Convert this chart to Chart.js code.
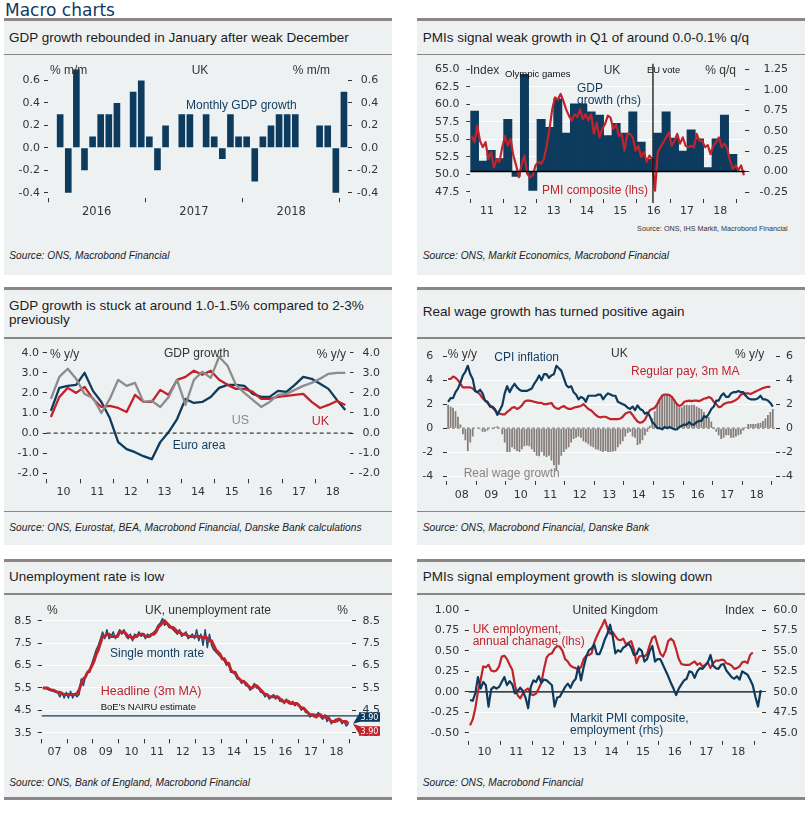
<!DOCTYPE html>
<html>
<head>
<meta charset="utf-8">
<script src="https://cdn.jsdelivr.net/npm/chart.js@4.4.1/dist/chart.umd.min.js"></script>
<style>
  html, body { margin: 0; padding: 0; background: #fff; }
  #page { position: relative; width: 812px; height: 814px; overflow: hidden; font-family: "Liberation Sans", Arial, sans-serif; }
  .head { position: absolute; left: 5px; top: 0; font: 17px "DejaVu Sans", sans-serif; color: #12395c; white-space: nowrap; }
  .panel { position: absolute; box-sizing: border-box; background: #eef1f2; border-top: 3px solid #8c8686; }
  .title { position: absolute; font-size: 13.5px; line-height: 16px; color: #1c1c1c; white-space: nowrap; }
  .sep { position: absolute; height: 1.5px; background: #8c8686; }
  .src { position: absolute; font-size: 10.2px; line-height: 12px; font-style: italic; color: #222; white-space: nowrap; }
  .mini { position: absolute; font-size: 7.2px; line-height: 9px; color: #333; white-space: nowrap; }
  canvas { position: absolute; }
</style>
</head>
<body>
<div id="page">
  <div class="head">Macro charts</div>

  <div class="panel" style="left:4px;top:18px;width:388px;height:257px"></div>
  <div class="panel" style="left:417px;top:18px;width:388px;height:257px"></div>
  <div class="panel" style="left:4px;top:287px;width:388px;height:258px"></div>
  <div class="panel" style="left:417px;top:287px;width:388px;height:258px"></div>
  <div class="panel" style="left:4px;top:559px;width:388px;height:241px;border-bottom:3px solid #8c8686"></div>
  <div class="panel" style="left:417px;top:559px;width:388px;height:241px;border-bottom:3px solid #8c8686"></div>

  <div class="title" style="left:9px;top:30px">GDP growth rebounded in January after weak December</div>
  <div class="title" style="left:422.7px;top:30px">PMIs signal weak growth in Q1 of around 0.0-0.1% q/q</div>
  <div class="title" style="left:9px;top:299.3px;line-height:14px">GDP growth is stuck at around 1.0-1.5% compared to 2-3%<br>previously</div>
  <div class="title" style="left:422.7px;top:304.4px">Real wage growth has turned positive again</div>
  <div class="title" style="left:9px;top:568.9px">Unemployment rate is low</div>
  <div class="title" style="left:422.7px;top:568.9px">PMIs signal employment growth is slowing down</div>

  <div class="sep" style="left:4px;top:53.5px;width:388px"></div>
  <div class="sep" style="left:417px;top:53.5px;width:388px"></div>
  <div class="sep" style="left:4px;top:337px;width:388px"></div>
  <div class="sep" style="left:417px;top:337px;width:388px"></div>
  <div class="sep" style="left:4px;top:510.5px;width:388px"></div>
  <div class="sep" style="left:417px;top:510.5px;width:388px"></div>
  <div class="sep" style="left:4px;top:593px;width:388px"></div>
  <div class="sep" style="left:417px;top:593px;width:388px"></div>

  <canvas id="c1" width="388" height="190" style="left:4px;top:56px"></canvas>
  <canvas id="c2" width="388" height="166" style="left:417px;top:56px"></canvas>
  <canvas id="c3" width="388" height="165" style="left:4px;top:340px"></canvas>
  <canvas id="c4" width="388" height="165" style="left:417px;top:340px"></canvas>
  <canvas id="c5" width="388" height="169" style="left:4px;top:596px"></canvas>
  <canvas id="c6" width="388" height="169" style="left:417px;top:596px"></canvas>

  <div class="mini" style="right:24.3px;top:224px">Source: ONS, IHS Markit, Macrobond Financial</div>

  <div class="src" style="left:9.3px;top:249.5px">Source: ONS, Macrobond Financial</div>
  <div class="src" style="left:422.7px;top:249.5px">Source: ONS, Markit Economics, Macrobond Financial</div>
  <div class="src" style="left:9.3px;top:521.5px">Source: ONS, Eurostat, BEA, Macrobond Financial, Danske Bank calculations</div>
  <div class="src" style="left:422.7px;top:521.5px">Source: ONS, Macrobond Financial, Danske Bank</div>
  <div class="src" style="left:9.3px;top:777px">Source: ONS, Bank of England, Macrobond Financial</div>
  <div class="src" style="left:422.7px;top:777px">Source: ONS, Macrobond Financial</div>
</div>

<script>
// ---- data ----

// UK monthly GDP, % m/m, Jan 2016 .. Jan 2019
const gdpStart = 2016;
const gdpMoM = [null, 0.3, -0.4, 0.7, -0.2, 0.1, 0.3, 0.3, 0.4, 0.0, 0.5, 0.6,
  0.1, -0.2, 0.2, 0.0, 0.3, 0.3, 0.0, 0.3, 0.1, -0.1, 0.3, 0.1,
  0.1, -0.3, 0.1, 0.2, 0.3, 0.3, 0.3, 0.0, 0.0, 0.2, 0.2, -0.4,
  0.5];
const gdpTicks = [-0.4, -0.3, -0.2, -0.1, 0, 0.1, 0.2, 0.3, 0.4, 0.5, 0.6, 0.7];
const gdpLabels = [-0.4, -0.2, 0, 0.2, 0.4, 0.6];
const gdpYears = [2016, 2017, 2018];
const gdpYearTicks = [2016, 2017, 2018, 2019];

// PMI composite (lhs, monthly from Jan 2011) and GDP q/q (rhs, quarterly from 2011Q1)
const pmiStart = 2011;
const pmiComposite = [
  55.5, 54.6, 57.0, 54.8, 53.9, 54.6, 52.2, 53.2, 51.0, 52.2, 51.8, 53.9,
  55.5, 54.1, 55.1, 52.7, 51.3, 49.6, 51.5, 52.7, 50.1, 49.6, 49.9, 51.3,
  51.8, 51.5, 52.2, 54.1, 56.5, 59.3, 61.0, 60.7, 61.5, 60.5, 59.3, 58.4,
  57.7, 58.6, 58.2, 59.3, 57.9, 58.6, 57.7, 58.6, 55.8, 57.4, 55.3, 56.5,
  57.2, 58.4, 58.1, 56.5, 57.2, 55.5, 55.8, 53.4, 55.8, 55.8, 55.3, 53.4,
  54.1, 52.5, 53.2, 51.8, 52.7, 52.2, 47.7, 53.2, 53.9, 54.6, 55.3, 56.0,
  54.1, 54.8, 55.8, 54.4, 55.3, 54.1, 53.9, 54.1, 53.9, 55.8, 54.8, 54.8,
  53.9, 54.2, 52.9, 54.1, 54.6, 55.3, 53.9, 54.4, 53.7, 52.0, 50.8, 51.3,
  50.6, 51.3, 49.9];
const gdpQoQ = [0.74, 0.13, 0.26, 0.16, 0.64, -0.06, 1.19, -0.23,
  0.64, 0.54, 0.89, 0.47, 0.83, 0.83, 0.73, 0.69,
  0.44, 0.59, 0.47, 0.73, 0.36, 0.15, 0.47, 0.73,
  0.41, 0.25, 0.51, 0.40, 0.05, 0.40, 0.69, 0.21];
const euVote = 2016.48;
const pmiTicks = [47.5, 50, 52.5, 55, 57.5, 60, 62.5, 65];
const qoqTicks = [-0.25, 0, 0.25, 0.5, 0.75, 1, 1.25];
const pmiYears = [2011, 2012, 2013, 2014, 2015, 2016, 2017, 2018];
const pmiYearTicks = [2011, 2012, 2013, 2014, 2015, 2016, 2017, 2018, 2019];

// GDP growth % y/y, quarterly from 2010Q1
const yoyStart = 2010;
const euroGdp = [1.1, 2.25, 2.35, 2.4, 3.0, 2.1, 1.55, 0.75, -0.45, -0.8, -0.95, -1.15,
  -1.3, -0.45, 0.05, 0.7, 1.7, 1.5, 1.55, 1.8, 2.25, 2.4, 2.4, 2.35,
  1.95, 1.8, 1.8, 2.1, 2.05, 2.4, 2.8, 2.7, 2.45, 2.2, 1.65, 1.15];
const ukGdp = [0.8, 1.8, 2.25, 2.0, 2.3, 1.7, 1.3, 1.35, 1.25, 1.05, 1.9, 1.55,
  1.55, 2.15, 1.9, 2.65, 2.8, 3.1, 2.9, 3.1, 2.65, 2.4, 2.2, 2.2,
  2.05, 1.7, 1.7, 1.8, 1.85, 1.9, 1.95, 1.55, 1.25, 1.4, 1.6, 1.4];
const usGdp = [1.7, 2.8, 3.2, 2.7, 1.95, 1.75, 1.0, 1.7, 2.65, 2.35, 2.5, 1.55,
  1.6, 1.3, 1.8, 2.65, 1.4, 2.65, 3.05, 2.75, 3.8, 3.35, 2.4, 2.0,
  1.65, 1.3, 1.55, 1.9, 1.95, 2.15, 2.35, 2.5, 2.7, 2.95, 3.0, 3.0];
const yoyTicks = [-2, -1, 0, 1, 2, 3, 4];
const yoyYears = [2010, 2011, 2012, 2013, 2014, 2015, 2016, 2017, 2018];

// UK CPI, regular pay (3m MA) and real wage growth, % y/y, monthly from Jan 2008
const wageStart = 2008;
const cpiInflation = [
  2.2, 2.5, 2.5, 3.0, 3.3, 3.8, 4.4, 4.7, 5.2, 4.5, 4.1, 3.1,
  3.0, 3.2, 2.9, 2.3, 2.2, 1.8, 1.8, 1.6, 1.1, 1.5, 1.9, 2.9,
  3.5, 3.0, 3.4, 3.7, 3.4, 3.2, 3.1, 3.1, 3.1, 3.2, 3.3, 3.7,
  4.0, 4.4, 4.0, 4.5, 4.5, 4.2, 4.4, 4.5, 5.2, 5.0, 4.8, 4.2,
  3.6, 3.4, 3.5, 3.0, 2.8, 2.4, 2.6, 2.5, 2.2, 2.7, 2.7, 2.7,
  2.7, 2.8, 2.8, 2.4, 2.7, 2.9, 2.8, 2.7, 2.7, 2.2, 2.1, 2.0,
  1.9, 1.7, 1.6, 1.8, 1.5, 1.9, 1.6, 1.5, 1.2, 1.3, 1.0, 0.5,
  0.3, 0.0, 0.0, -0.1, 0.1, 0.0, 0.1, 0.0, -0.1, -0.1, 0.1, 0.2,
  0.3, 0.3, 0.5, 0.3, 0.3, 0.5, 0.6, 0.6, 1.0, 0.9, 1.2, 1.6,
  1.8, 2.3, 2.3, 2.7, 2.9, 2.6, 2.6, 2.9, 3.0, 3.0, 3.1, 3.0,
  3.0, 2.7, 2.5, 2.4, 2.4, 2.4, 2.5, 2.7, 2.4, 2.4, 2.3, 2.1,
  1.8];
const regularPay = [
  4.1, 4.1, 4.3, 4.2, 4.0, 3.7, 3.4, 3.4, 3.4, 3.4, 3.3, 3.1,
  3.0, 2.8, 2.5, 2.3, 2.1, 1.9, 1.7, 1.5, 1.3, 1.2, 1.15, 1.15,
  1.35, 1.5, 1.7, 1.75, 1.6, 1.7, 1.9, 2.2, 2.3, 2.3, 2.25, 2.2,
  2.15, 2.1, 2.1, 2.0, 2.0, 2.05, 2.1, 1.8, 1.65, 1.6, 1.75, 1.85,
  1.7, 1.6, 1.6, 1.7, 1.75, 1.8, 1.85, 2.0, 1.8, 1.6, 1.5, 1.3,
  1.1, 0.95, 0.9, 0.95, 0.95, 0.85, 0.75, 0.75, 0.75, 0.75, 0.8, 0.95,
  1.2, 1.3, 1.35, 1.1, 0.8, 0.55, 0.45, 0.5, 0.7, 1.1, 1.5, 1.6,
  1.7, 2.0, 2.4, 2.7, 2.8, 2.8, 2.75, 2.6, 2.3, 2.0, 1.85, 1.95,
  2.2, 2.25, 2.3, 2.25, 2.3, 2.3, 2.25, 2.35, 2.45, 2.5, 2.6, 2.5,
  2.2, 2.0, 1.75, 1.8, 2.0, 2.1, 2.15, 2.15, 2.25, 2.35, 2.5, 2.8,
  2.85, 2.9, 2.9, 2.85, 2.95, 3.05, 3.15, 3.25, 3.35, 3.4, 3.45, 3.45];
const realWage = [
  1.95, 1.8, 1.7, 1.4, 0.95, 0.3, -0.5, -1.0, -1.9, -1.2, -0.7, 0.0,
  0.0, -0.1, -0.3, -0.3, -0.2, 0.05, -0.1, 0.1, 0.15, 0.0, -0.5, -1.2,
  -2.0, -2.0, -1.6, -1.75, -1.9, -2.0, -1.75, -1.5, -1.45, -1.5, -1.75, -2.0,
  -2.3, -2.35, -2.0, -2.3, -2.4, -2.3, -2.7, -3.1, -3.5, -3.05, -2.3, -2.0,
  -1.75, -1.6, -1.2, -0.9, -0.8, -0.7, -0.8, -1.1, -1.2, -1.35, -1.5, -1.6,
  -1.75, -1.8, -1.9, -2.0, -1.9, -2.0, -2.0, -1.95, -1.9, -1.6, -1.35, -1.1,
  -0.7, -0.4, -0.3, -0.7, -0.8, -1.4, -1.3, -1.0, -0.6, -0.3, 0.2, 0.8,
  1.4, 2.0, 2.4, 2.8, 2.7, 2.8, 2.65, 2.6, 2.4, 2.1, 1.75, 1.75,
  1.9, 1.95, 1.9, 1.95, 1.95, 1.8, 1.7, 1.6, 1.35, 1.1, 0.9, 0.55,
  0.1, -0.3, -0.6, -0.9, -0.8, -0.6, -0.6, -0.8, -0.8, -0.7, -0.6, -0.5,
  -0.2, 0.1, 0.35, 0.35, 0.35, 0.35, 0.4, 0.45, 0.6, 0.8, 1.1, 1.35,
  1.6];
const wageTicks = [-4, -3, -2, -1, 0, 1, 2, 3, 4, 5, 6];
const wageLabels = [-4, -2, 0, 2, 4, 6];
const wageYears = [2008, 2009, 2010, 2011, 2012, 2013, 2014, 2015, 2016, 2017, 2018];
const wageYearTicks = [2008, 2009, 2010, 2011, 2012, 2013, 2014, 2015, 2016, 2017, 2018, 2019];

// UK unemployment rate %, monthly from Jan 2007
const unempStart = 2007;
const unempSingle = [
  5.5, 5.5, 5.45, 5.4, 5.4, 5.35, 5.3, 5.3, 5.1, 5.3, 5.05, 5.3,
  5.05, 5.35, 5.05, 5.25, 5.1, 5.2, 5.9, 5.6, 6.0, 6.2, 6.2, 6.6,
  6.9, 7.2, 7.4, 7.7, 8.0, 7.7, 8.1, 7.7, 7.8, 8.0, 7.7, 7.9,
  8.1, 7.9, 8.1, 7.8, 7.7, 7.9, 7.6, 7.9, 7.8, 8.0, 7.8, 7.9,
  7.7, 7.9, 7.8, 7.9, 8.0, 8.1, 8.3, 8.4, 8.6, 8.3, 8.4, 8.2,
  8.2, 8.1, 8.0, 7.9, 8.1, 7.8, 7.9, 8.0, 7.7, 7.8, 7.9, 7.7,
  8.1, 7.6, 7.9, 7.4, 8.1, 7.3, 7.9, 7.4, 7.2, 7.1, 7.0, 6.9,
  6.8, 6.7, 6.5, 6.6, 6.2, 6.2, 6.1, 5.9, 5.9, 5.7, 5.8, 5.6,
  5.6, 5.4, 5.5, 5.7, 5.5, 5.5, 5.3, 5.3, 5.1, 5.2, 5.0, 5.1,
  5.2, 5.0, 5.1, 4.9, 5.0, 4.8, 5.0, 4.8, 4.8, 4.9, 4.7, 4.8,
  4.7, 4.5, 4.6, 4.4, 4.4, 4.2, 4.3, 4.2, 4.3, 4.4, 4.2, 4.1,
  4.3, 4.0, 4.2, 3.9, 4.0, 4.1, 4.0, 4.1, 3.9, 4.0, 3.8, 3.9];
const unempHeadline = [
  5.5, 5.5, 5.5, 5.45, 5.4, 5.4, 5.35, 5.3, 5.3, 5.25, 5.2, 5.2,
  5.2, 5.2, 5.2, 5.2, 5.25, 5.4, 5.7, 5.9, 6.0, 6.2, 6.3, 6.5,
  6.7, 7.0, 7.2, 7.5, 7.8, 7.8, 7.9, 7.9, 7.8, 7.8, 7.8, 7.8,
  8.0, 8.0, 8.0, 7.9, 7.8, 7.8, 7.7, 7.8, 7.8, 7.9, 7.9, 7.9,
  7.8, 7.8, 7.8, 7.9, 7.9, 8.0, 8.2, 8.3, 8.4, 8.5, 8.4, 8.3,
  8.2, 8.2, 8.1, 8.0, 8.0, 7.9, 7.9, 7.9, 7.8, 7.8, 7.8, 7.8,
  7.8, 7.8, 7.8, 7.7, 7.8, 7.7, 7.6, 7.6, 7.4, 7.2, 7.1, 7.0,
  6.8, 6.8, 6.6, 6.6, 6.3, 6.2, 6.2, 6.0, 5.9, 5.8, 5.8, 5.7,
  5.6, 5.5, 5.5, 5.6, 5.6, 5.5, 5.4, 5.3, 5.2, 5.2, 5.1, 5.1,
  5.1, 5.1, 5.1, 5.0, 4.9, 4.9, 4.9, 4.9, 4.8, 4.8, 4.8, 4.8,
  4.7, 4.6, 4.6, 4.5, 4.4, 4.3, 4.3, 4.3, 4.2, 4.3, 4.3, 4.2,
  4.2, 4.2, 4.1, 4.0, 4.0, 4.0, 4.1, 4.1, 4.0, 4.0, 4.0, 3.9];
const nairuEstimate = 4.25;
const unempTicks = [3.5, 4, 4.5, 5, 5.5, 6, 6.5, 7, 7.5, 8, 8.5, 9];
const unempLabels = [3.5, 4.5, 5.5, 6.5, 7.5, 8.5];
const unempYears = [2007, 2008, 2009, 2010, 2011, 2012, 2013, 2014, 2015, 2016, 2017, 2018];
const unempYearTicks = [2007, 2008, 2009, 2010, 2011, 2012, 2013, 2014, 2015, 2016, 2017, 2018, 2019];

// UK employment annual change, mn (lhs) and PMI employment index (rhs), monthly from Jan 2010
const empStart = 2010;
const ukEmployment = [
  -0.41, -0.34, -0.2, 0.0, 0.14, 0.31, 0.3, 0.33, 0.26, 0.25, 0.26, 0.31,
  0.43, 0.44, 0.4, 0.33, 0.27, 0.08, -0.04, -0.08, -0.02, 0.02, 0.04, -0.03,
  -0.04, -0.02, 0.04, 0.11, 0.28, 0.42, 0.46, 0.47, 0.53, 0.56, 0.55, 0.5,
  0.4, 0.37, 0.32, 0.3, 0.29, 0.27, 0.3, 0.4, 0.44, 0.45, 0.47, 0.6,
  0.68, 0.75, 0.81, 0.88, 0.78, 0.71, 0.73, 0.68, 0.64, 0.63, 0.65, 0.58,
  0.6, 0.62, 0.52, 0.35, 0.43, 0.44, 0.43, 0.46, 0.57, 0.66, 0.68, 0.57,
  0.47, 0.43, 0.5, 0.62, 0.65, 0.62, 0.52, 0.4, 0.34, 0.33, 0.33, 0.33,
  0.35, 0.37, 0.33, 0.35, 0.31, 0.33, 0.36, 0.29, 0.35, 0.38, 0.38, 0.39,
  0.39, 0.35, 0.34, 0.32, 0.28, 0.29, 0.31, 0.36, 0.37, 0.35, 0.45, 0.48];
const pmiEmployment = [
  49.0, 48.9, 49.8, 51.8, 50.4, 51.2, 50.8, 48.2, 50.3, 50.6, 50.4, 50.6,
  51.2, 51.8, 50.8, 51.3, 50.9, 49.8, 50.1, 50.5, 50.1, 49.3, 48.0, 50.6,
  51.4, 51.2, 51.9, 51.1, 51.5, 51.4, 51.1, 50.8, 48.2, 49.3, 49.4, 50.0,
  50.6, 51.0, 50.5, 51.2, 51.6, 53.1, 51.4, 53.0, 54.3, 55.1, 55.3, 55.8,
  54.6, 54.6, 55.4, 56.4, 57.1, 58.2, 56.8, 54.7, 55.1, 54.9, 55.4, 55.6,
  55.9, 55.4, 54.5, 54.6, 55.3, 55.0, 53.7, 54.0, 55.0, 55.6, 53.7, 54.0,
  54.0, 53.3, 52.6, 51.9, 51.1, 50.4, 49.6, 50.4, 50.9, 51.4, 51.6, 52.5,
  52.4, 51.7, 52.5, 52.9, 52.8, 53.2, 53.6, 54.5, 53.2, 52.9, 52.8, 53.3,
  53.4, 52.6, 52.2, 51.8, 51.6, 51.9, 51.5, 52.5, 52.3, 52.1, 51.5, 50.8,
  49.4, 48.2, 50.2];
const empTicks = [-0.5, -0.25, 0, 0.25, 0.5, 0.75, 1];
const empIndexTicks = [45, 47.5, 50, 52.5, 55, 57.5, 60];
const empYears = [2010, 2011, 2012, 2013, 2014, 2015, 2016, 2017, 2018];
const empYearTicks = [2010, 2011, 2012, 2013, 2014, 2015, 2016, 2017, 2018, 2019];

// ---- styling ----
const NAVY = '#0d3b5e';
const RED = '#c1232b';
const GREY = '#8c8c8c';
const BARGREY = '#857e7a';
const INK = '#333';
const NONE = 'rgba(0,0,0,0)';
const NUM_FONT = '"DejaVu Sans", sans-serif';
const TXT_FONT = '"Liberation Sans", Arial, sans-serif';

Chart.defaults.font.family = NUM_FONT;
Chart.defaults.color = INK;

const monthly = (start, vals) => vals.map((v, i) => ({ x: start + (i + 0.5) / 12, y: v }));
const quarterly = (start, vals) => vals.map((v, i) => ({ x: start + (i + 0.5) / 4, y: v }));
const shortYear = y => String(y).slice(2);

// year axis: tick marks at year boundaries, labels in the middle of each year
function xAxis(min, max, tickYears, labelYears, fmt, height, pad, size) {
  return {
    type: 'linear', position: 'bottom', min, max, offset: false,
    afterBuildTicks: a => {
      a.ticks = tickYears.map(v => ({ value: v }))
        .concat(labelYears.map(v => ({ value: v + 0.5 })))
        .sort((p, q) => p.value - q.value);
    },
    afterFit: a => { a.height = height; },
    ticks: {
      autoSkip: false, maxRotation: 0, minRotation: 0, padding: pad,
      font: { family: NUM_FONT, size: size || 11 }, color: INK,
      callback: v => Number.isInteger(v) ? '' : fmt(Math.floor(v))
    },
    grid: {
      offset: false, drawOnChartArea: false, tickLength: 4, tickWidth: 1,
      tickColor: c => (c.tick && Number.isInteger(c.tick.value)) ? INK : NONE
    },
    border: { display: false }
  };
}

function yAxis(o) {
  return {
    type: 'linear', position: o.pos, min: o.min, max: o.max,
    afterBuildTicks: a => { a.ticks = o.ticks.map(v => ({ value: v })); },
    afterFit: a => { a.width = o.width; },
    ticks: {
      padding: o.pad || 4, crossAlign: o.pos === 'right' ? 'far' : 'near',
      font: { family: NUM_FONT, size: 11 }, color: INK,
      callback: v => (o.labels || o.ticks).includes(v) ? v.toFixed(o.dp) : ''
    },
    grid: {
      drawOnChartArea: !!o.grid, color: o.grid || NONE, lineWidth: 1,
      tickLength: 4, tickColor: INK
    },
    border: { display: false }
  };
}

// reference lines, text notes and value tags, placed in page coordinates
function overlay(cfg) {
  const drawRefs = (chart, over) => {
    const { ctx, chartArea: ca } = chart;
    (cfg.refs || []).filter(r => !!r.over === over).forEach(r => {
      const s = chart.scales[r.axis];
      ctx.save();
      ctx.strokeStyle = r.color;
      ctx.lineWidth = r.width;
      ctx.setLineDash(r.dash || []);
      ctx.beginPath();
      if (s.isHorizontal()) {
        const x = s.getPixelForValue(r.value);
        ctx.moveTo(x, ca.top - (r.ext0 || 0));
        ctx.lineTo(x, ca.bottom + (r.ext1 || 0));
      } else {
        const y = s.getPixelForValue(r.value);
        ctx.moveTo(ca.left - (r.ext0 || 0), y);
        ctx.lineTo(ca.right + (r.ext1 || 0), y);
      }
      ctx.stroke();
      ctx.restore();
    });
  };
  return {
    id: 'overlay',
    beforeDatasetsDraw: chart => drawRefs(chart, false),
    afterDatasetsDraw: chart => drawRefs(chart, true),
    afterDraw: chart => {
      const { ctx, chartArea: ca } = chart;
      (cfg.notes || []).forEach(n => {
        ctx.save();
        ctx.font = (n.s || 12) + 'px ' + (n.f || TXT_FONT);
        ctx.fillStyle = n.c || INK;
        ctx.textAlign = n.a || 'left';
        ctx.textBaseline = 'middle';
        ctx.fillText(n.t, n.x - cfg.ox, n.y - cfg.oy);
        ctx.restore();
      });
      (cfg.tags || []).forEach(g => {
        const y0 = chart.scales[g.axis].getPixelForValue(g.value);
        const x0 = ca.right + 7, w = 21, h = 9.5, yc = y0 + g.dy;
        ctx.save();
        ctx.fillStyle = g.bg;
        ctx.beginPath();
        ctx.moveTo(ca.right + 1, y0);
        ctx.lineTo(x0 + 1, yc - h / 2);
        ctx.lineTo(x0 + 1, yc + h / 2);
        ctx.closePath();
        ctx.fill();
        ctx.fillRect(x0, yc - h / 2, w, h);
        ctx.fillStyle = '#fff';
        ctx.font = '8px ' + NUM_FONT;
        ctx.textAlign = 'center';
        ctx.textBaseline = 'middle';
        ctx.fillText(g.text, x0 + w / 2, yc + 0.5);
        ctx.restore();
      });
    }
  };
}

const base = (padRight, padTop) => ({
  responsive: false, animation: false,
  layout: { padding: { left: 0, right: padRight, top: padTop, bottom: 0 } },
  plugins: { legend: { display: false }, tooltip: { enabled: false } }
});
const lineDs = (data, color, width, axis, order) => ({
  type: 'line', data, borderColor: color, borderWidth: width, pointRadius: 0,
  tension: 0, fill: false, yAxisID: axis || 'y', order: order || 1, borderJoinStyle: 'round'
});

// 1. Monthly GDP growth
new Chart(document.getElementById('c1'), {
  type: 'bar',
  data: { datasets: [{
    data: monthly(gdpStart, gdpMoM), backgroundColor: NAVY,
    barPercentage: 0.82, categoryPercentage: 1
  }] },
  options: Object.assign(base(13.7, 13.3), {
    scales: {
      x: xAxis(2016, 2016 + 37 / 12, gdpYearTicks, gdpYears, y => String(y), 47.7, 3, 11.5),
      y: yAxis({ pos: 'left', min: -0.45, max: 0.7, ticks: gdpTicks, labels: gdpLabels, dp: 1, width: 44, pad: 4 }),
      y2: yAxis({ pos: 'right', min: -0.45, max: 0.7, ticks: gdpTicks, labels: gdpLabels, dp: 1, width: 30.3 })
    }
  }),
  plugins: [overlay({ ox: 4, oy: 56, notes: [
    { t: '% m/m', x: 50, y: 71 },
    { t: 'UK', x: 200, y: 71, a: 'center' },
    { t: '% m/m', x: 330, y: 71, a: 'right' },
    { t: 'Monthly GDP growth', x: 186, y: 105.5, c: NAVY }
  ] })]
});

// 2. PMI composite vs GDP q/q
new Chart(document.getElementById('c2'), {
  type: 'bar',
  data: { datasets: [
    { type: 'bar', data: quarterly(pmiStart, gdpQoQ), backgroundColor: NAVY, yAxisID: 'y2',
      barPercentage: 1, categoryPercentage: 1, order: 2 },
    lineDs(monthly(pmiStart, pmiComposite), RED, 2.2, 'y', 1)
  ] },
  options: Object.assign(base(17, 12.7), {
    scales: {
      x: xAxis(2011, 2019.25, pmiYearTicks, pmiYears, shortYear, 23, 2),
      y: yAxis({ pos: 'left', min: 46.5, max: 65, ticks: pmiTicks, dp: 1, width: 53.3, pad: 6.8,
        grid: c => (c.tick && c.tick.value > 50 && c.tick.value < 65) ? '#fff' : NONE }),
      y2: yAxis({ pos: 'right', min: -0.335, max: 1.25, ticks: qoqTicks, dp: 2, width: 42.7 })
    }
  }),
  plugins: [overlay({ ox: 417, oy: 56,
    refs: [
      { axis: 'y2', value: 0, color: '#000', width: 1.5, over: true },
      { axis: 'x', value: euVote, color: '#000', width: 1.2, over: true, ext0: 5.7, ext1: 4 }
    ],
    notes: [
      { t: 'Index', x: 470, y: 71 },
      { t: 'Olympic games', x: 505, y: 74, s: 9.5, c: '#111' },
      { t: 'UK', x: 612, y: 71, a: 'center' },
      { t: 'EU vote', x: 647, y: 70.5, s: 9.3, c: '#111' },
      { t: '% q/q', x: 736, y: 71, a: 'right' },
      { t: 'GDP', x: 577, y: 88.5, c: NAVY },
      { t: 'growth (rhs)', x: 577, y: 100.5, c: NAVY },
      { t: 'PMI composite (lhs)', x: 542, y: 191, c: RED }
    ] })]
});

// 3. GDP growth y/y
new Chart(document.getElementById('c3'), {
  type: 'line',
  data: { datasets: [
    lineDs(quarterly(yoyStart, euroGdp), NAVY, 2.3, 'y', 3),
    lineDs(quarterly(yoyStart, ukGdp), RED, 2.3, 'y', 2),
    lineDs(quarterly(yoyStart, usGdp), GREY, 2.3, 'y', 1)
  ] },
  options: Object.assign(base(12, 12.7), {
    scales: {
      x: xAxis(2010, 2019, yoyYears, yoyYears, shortYear, 25.7, 2),
      y: yAxis({ pos: 'left', min: -2.3, max: 4, ticks: yoyTicks, dp: 1, width: 42.7, pad: 3.7 }),
      y2: yAxis({ pos: 'right', min: -2.3, max: 4, ticks: yoyTicks, dp: 1, width: 30.5 })
    }
  }),
  plugins: [overlay({ ox: 4, oy: 340,
    refs: [{ axis: 'y', value: 0, color: '#111', width: 1, dash: [4, 3], ext1: 5 }],
    notes: [
      { t: '% y/y', x: 50, y: 355 },
      { t: 'GDP growth', x: 196.7, y: 353.5, a: 'center' },
      { t: '% y/y', x: 346, y: 355, a: 'right' },
      { t: 'US', x: 231.7, y: 420.5, c: GREY, s: 12.5 },
      { t: 'UK', x: 311.7, y: 422, c: RED, s: 12.5 },
      { t: 'Euro area', x: 172.7, y: 445.5, c: NAVY }
    ] })]
});

// 4. Real wage growth
new Chart(document.getElementById('c4'), {
  type: 'bar',
  data: { datasets: [
    { type: 'bar', data: monthly(wageStart, realWage), backgroundColor: BARGREY,
      barPercentage: 0.72, categoryPercentage: 1, order: 3 },
    lineDs(monthly(wageStart, regularPay), RED, 2.2, 'y', 2),
    lineDs(monthly(wageStart, cpiInflation), NAVY, 2.2, 'y', 1)
  ] },
  options: Object.assign(base(12, 12.7), {
    scales: {
      x: xAxis(2008, 2019.15, wageYearTicks, wageYears, shortYear, 24.1, 3.5),
      y: yAxis({ pos: 'left', min: -4.4, max: 6, ticks: wageTicks, labels: wageLabels, dp: 0, width: 29.9, pad: 9.6,
        grid: c => (c.tick && c.tick.value < 6) ? '#fff' : NONE }),
      y2: yAxis({ pos: 'right', min: -4.4, max: 6, ticks: wageTicks, labels: wageLabels, dp: 0, width: 17 })
    }
  }),
  plugins: [overlay({ ox: 417, oy: 340,
    refs: [{ axis: 'y', value: 0, color: '#666', width: 1, dash: [3, 2] }],
    notes: [
      { t: '% y/y', x: 447.7, y: 355 },
      { t: 'CPI inflation', x: 494.3, y: 357.5, c: NAVY },
      { t: 'UK', x: 619.3, y: 353.5, a: 'center' },
      { t: '% y/y', x: 764.3, y: 355, a: 'right' },
      { t: 'Regular pay, 3m MA', x: 631, y: 371.5, c: RED },
      { t: 'Real wage growth', x: 463.7, y: 473.5, c: '#8a8380' }
    ] })]
});

// 5. Unemployment rate
new Chart(document.getElementById('c5'), {
  type: 'line',
  data: { datasets: [
    lineDs(monthly(unempStart, unempSingle), '#1d4a70', 1.5, 'y', 2),
    lineDs(monthly(unempStart, unempHeadline), RED, 3, 'y', 1)
  ] },
  options: Object.assign(base(12, 13.5), {
    scales: {
      x: xAxis(2007, 2019.1, unempYearTicks, unempYears, shortYear, 25.6, 1.7),
      y: yAxis({ pos: 'left', min: 3.2, max: 9, ticks: unempTicks, labels: unempLabels, dp: 1, width: 37.7, pad: 6,
        grid: c => (c.tick && c.tick.value < 9) ? '#fff' : NONE }),
      y2: yAxis({ pos: 'right', min: 3.2, max: 9, ticks: unempTicks, labels: unempLabels, dp: 1, width: 28 })
    }
  }),
  plugins: [overlay({ ox: 4, oy: 596,
    refs: [{ axis: 'y', value: nairuEstimate, color: NAVY, width: 1.2, ext1: 6 }],
    notes: [
      { t: '%', x: 47, y: 611 },
      { t: 'UK, unemployment rate', x: 208, y: 611, a: 'center' },
      { t: '%', x: 348, y: 611, a: 'right' },
      { t: 'Single month rate', x: 110, y: 653.5, c: NAVY },
      { t: 'Headline (3m MA)', x: 100.7, y: 692, c: RED, s: 12.5 },
      { t: "BoE's NAIRU estimate", x: 100.7, y: 707.5, s: 9.5, c: '#111' }
    ],
    tags: [
      { axis: 'y', value: unempSingle[unempSingle.length - 1], text: unempSingle[unempSingle.length - 1].toFixed(2), bg: NAVY, dy: -6.7 },
      { axis: 'y', value: unempHeadline[unempHeadline.length - 1], text: unempHeadline[unempHeadline.length - 1].toFixed(2), bg: RED, dy: 7.3 }
    ] })]
});

// 6. Employment vs PMI employment
new Chart(document.getElementById('c6'), {
  type: 'line',
  data: { datasets: [
    lineDs(monthly(empStart, ukEmployment), RED, 2.2, 'y', 2),
    lineDs(monthly(empStart, pmiEmployment), NAVY, 2.2, 'y2', 1)
  ] },
  options: Object.assign(base(7.3, 14), {
    scales: {
      x: xAxis(2010, 2019.25, empYearTicks, empYears, shortYear, 24.1, 1),
      y: yAxis({ pos: 'left', min: -0.6, max: 1, ticks: empTicks, dp: 2, width: 51.7, pad: 5.4,
        grid: c => (c.tick && c.tick.value < 1) ? '#fff' : NONE }),
      y2: yAxis({ pos: 'right', min: 44, max: 60, ticks: empIndexTicks, dp: 1, width: 35.7 })
    }
  }),
  plugins: [overlay({ ox: 417, oy: 596,
    refs: [{ axis: 'y', value: 0, color: '#000', width: 1.2 }],
    notes: [
      { t: 'United Kingdom', x: 615.3, y: 610.5, a: 'center' },
      { t: 'Index', x: 754.3, y: 610.5, a: 'right' },
      { t: 'UK employment,', x: 472.7, y: 630, c: RED },
      { t: 'annual chanage (lhs)', x: 472.7, y: 641.7, c: RED },
      { t: 'Markit PMI composite,', x: 570, y: 718.3, c: NAVY },
      { t: 'employment (rhs)', x: 570, y: 731, c: NAVY }
    ] })]
});
</script>
</body>
</html>
